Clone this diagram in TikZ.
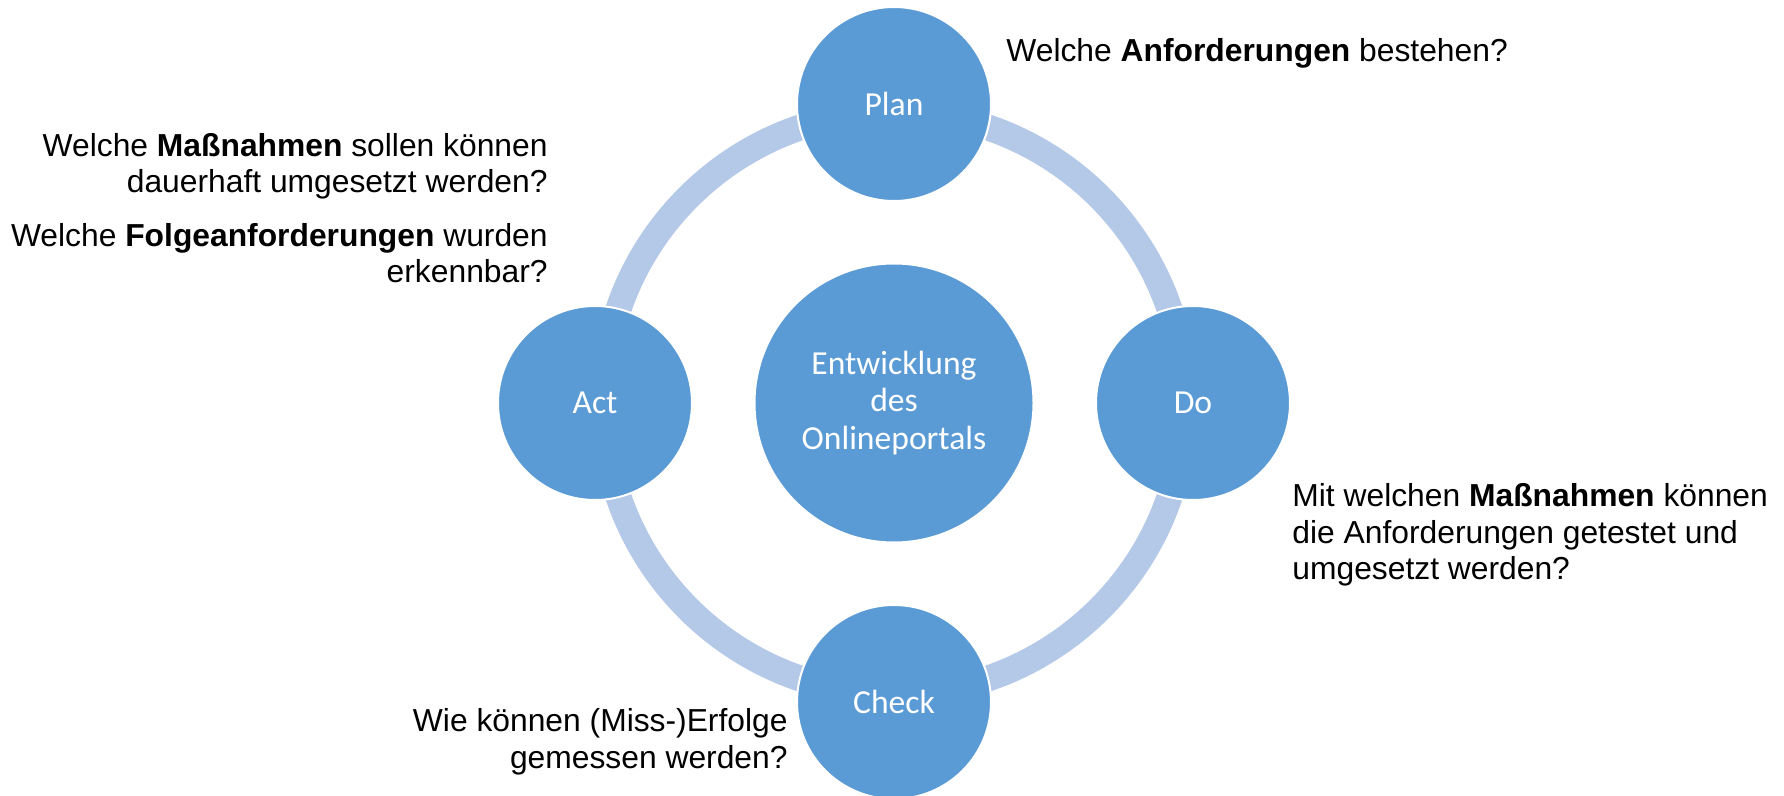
\documentclass[tikz,border=0pt]{standalone}
\usepackage{fontspec}
\setmainfont{Liberation Sans}
\newfontfamily\phasefont{Carlito}
\usetikzlibrary{positioning}
\definecolor{phaseblue}{RGB}{91,155,213}
\definecolor{ringblue}{RGB}{180,200,232}

\begin{document}
\begin{tikzpicture}[x=0.5pt,y=-0.5pt,
	phase/.style={circle,fill=phaseblue,draw=white,line width=1pt,minimum size=97pt,inner sep=0pt,text=white,align=center,font=\phasefont\fontsize{16.8}{18.75}\selectfont},
	hub/.style={phase,minimum size=139.5pt},
	question/.style={inner sep=0pt,font=\fontsize{15.9}{18.3}\selectfont}]
	\useasboundingbox (0,0) rectangle (1784,796);
	\coordinate (mid) at (894,403);
	\draw[ringblue,line width=13pt] (mid) circle (291);
	\node[hub] (hub) at (mid) {Entwicklung\\des\\Onlineportals};
	\node[phase,on grid,above=149.5pt of hub] (plan) {Plan};
	\node[phase,on grid,right=149.5pt of hub] (do) {Do};
	\node[phase,on grid,below=149.5pt of hub] (check) {Check};
	\node[phase,on grid,left=149.5pt of hub] (act) {Act};
	% questions (base = last line)
	\node[question,anchor=base west] (planq) at (1006,62) {Welche \textbf{Anforderungen} bestehen?};
	\node[question,anchor=base west,align=left] (doq) at (1292,580) {Mit welchen \textbf{Maßnahmen} können\\die Anforderungen getestet und\\umgesetzt werden?};
	\node[question,anchor=base east,align=right] (checkq) at (788,768) {Wie können (Miss-)Erfolge\\gemessen werden?};
	\node[question,anchor=base east,align=right] (actq) at (548,193) {Welche \textbf{Maßnahmen} sollen können\\dauerhaft umgesetzt werden?};
	\node[question,anchor=base east,align=right] (nextq) at (548,283) {Welche \textbf{Folgeanforderungen} wurden\\erkennbar?};
\end{tikzpicture}
\end{document}
